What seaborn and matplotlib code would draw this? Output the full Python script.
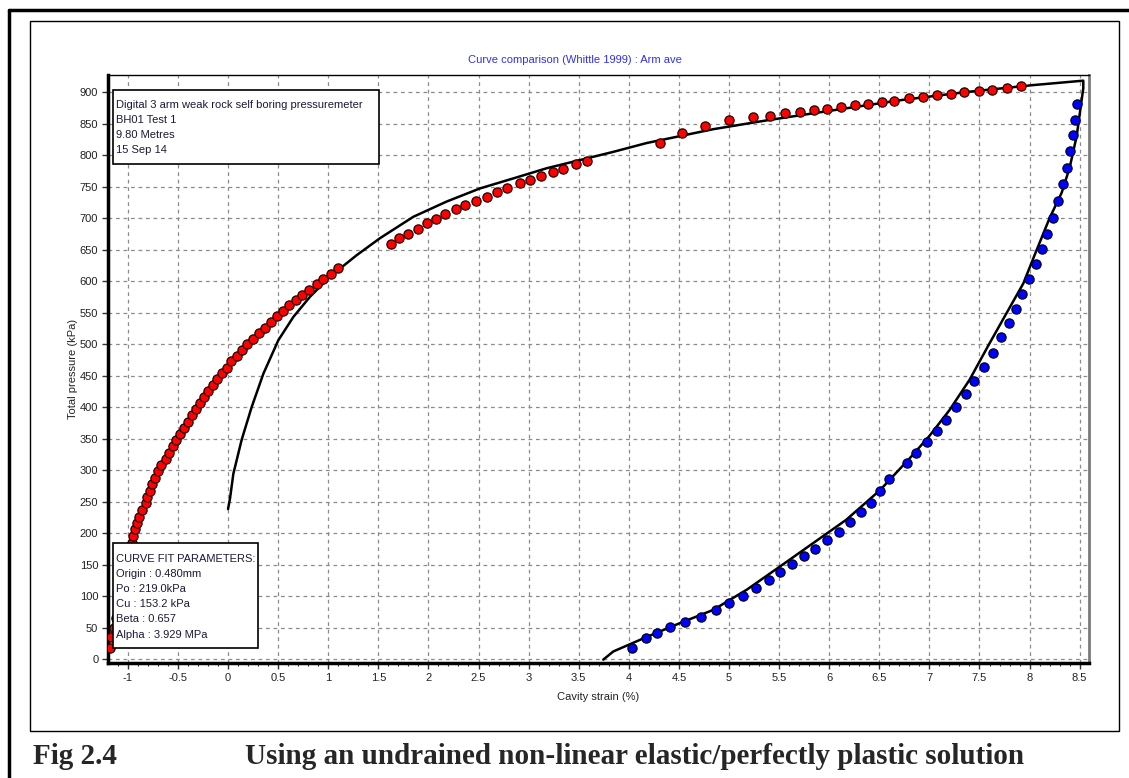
import numpy as np
import pandas as pd
import matplotlib
matplotlib.use("Agg")
import matplotlib.pyplot as plt
from matplotlib.patches import Rectangle
from matplotlib.lines import Line2D
from matplotlib.ticker import MultipleLocator
import seaborn as sns

# Loading branch (measured, red)
load_strain = [-1.18, -1.17, -1.14, -1.12, -1.10, -1.08, -1.06, -1.04, -1.02, -1.00, -0.98,
               -0.961, -0.945, -0.928, -0.911, -0.885, -0.855, -0.820,
               -0.812, -0.778, -0.755, -0.725, -0.699, -0.669, -0.622, -0.585, -0.552, -0.516,
               -0.479, -0.439, -0.399, -0.356, -0.319, -0.279, -0.236, -0.196, -0.153, -0.110,
               -0.063, -0.013, 0.033, 0.087, 0.140, 0.193, 0.250, 0.310, 0.366, 0.426,
               0.486, 0.546, 0.612, 0.679, 0.742, 0.812, 0.885, 0.951, 1.025, 1.101,
               1.624, 1.710, 1.796, 1.893, 1.983, 2.076, 2.163, 2.272, 2.368, 2.475,
               2.582, 2.685, 2.788, 2.914, 3.017, 3.127, 3.240, 3.346, 3.473, 3.586,
               4.311, 4.534, 4.757, 4.995, 5.235, 5.406, 5.559, 5.709, 5.848, 5.975,
               6.118, 6.254, 6.384, 6.524, 6.650, 6.797, 6.933, 7.073, 7.213, 7.349,
               7.492, 7.628, 7.778, 7.914]
load_pressure = [18, 35, 50, 65, 80, 95, 110, 125, 140, 155, 170,
                 184.6, 195, 205.9, 216.4, 225.9, 236.5, 248,
                 257.6, 267, 277.8, 287.8, 298, 308, 317.5, 327.5, 337.6, 347.6,
                 357, 366.7, 377, 386.7, 396.8, 406.3, 415.8, 425.4, 435, 443.9,
                 453.9, 462.4, 472.5, 481.5, 490, 500, 508.5, 517, 525.4, 535.4,
                 544.5, 553, 562, 570.4, 577.3, 585.7, 594.7, 603, 611, 620.1,
                 658.7, 667.7, 675, 683, 691.5, 698, 706.8, 713.8, 720, 727.5,
                 733.8, 741.3, 747.6, 755, 761, 766.7, 773.5, 778.3, 785.2, 790.5,
                 818.5, 834.4, 846, 855.5, 861, 862.5, 866, 868, 871.4, 873,
                 876.7, 880, 881.7, 884.9, 886, 889.7, 892.6, 894.7, 896.3, 899.4,
                 901.4, 902.5, 906.7, 909.5]

# Unloading branch (measured, blue)
unload_strain = [8.473, 8.456, 8.436, 8.403, 8.376, 8.330, 8.286, 8.230, 8.177, 8.124,
                 8.064, 7.994, 7.927, 7.864, 7.791, 7.715, 7.632, 7.545, 7.445, 7.362,
                 7.265, 7.169, 7.073, 6.973, 6.866, 6.773, 6.593, 6.510, 6.414, 6.320,
                 6.204, 6.095, 5.975, 5.858, 5.749, 5.632, 5.512, 5.396, 5.269, 5.137,
                 5.003, 4.867, 4.721, 4.564, 4.414, 4.278, 4.168, 4.032]
unload_pressure = [881.4, 855.5, 831, 806.8, 780, 754.4, 727, 700.5, 674.6, 650.3,
                   626.5, 602.6, 579.8, 556, 533.8, 510.6, 486.2, 464, 441.8, 421.2,
                   400.5, 379.9, 361.4, 343.9, 326.9, 310.6, 285.2, 266, 248.1, 232.8,
                   217.5, 201.6, 188.4, 174.6, 163, 150.8, 138, 125.4, 113.2, 99.5,
                   88.9, 77.2, 66.7, 58.7, 50.3, 41.8, 33.3, 17.9]

# Fitted curve (Whittle 1999), loading then unloading
fit_strain = [0.0, 0.02, 0.053, 0.136, 0.236, 0.353, 0.502, 0.652, 0.818, 1.018,
              1.284, 1.517, 1.85, 2.18, 2.515, 2.85, 3.18, 3.513, 3.845, 4.178,
              4.511, 4.843, 5.376, 6.04, 6.71, 7.37, 8.037, 8.536, 8.536, 8.515,
              8.47, 8.40, 8.32, 8.20, 8.07, 7.937, 7.77, 7.60, 7.40, 7.20,
              7.0, 6.8, 6.507, 6.17, 5.84, 5.51, 5.177, 4.843, 4.51, 4.178,
              3.845, 3.745]
fit_pressure = [238, 255, 294, 348, 400, 453, 506, 543, 575, 607,
                641, 668, 702, 726, 747, 763, 779, 792, 805, 819,
                830, 841, 855, 871, 887, 900, 911, 918, 906, 882,
                830, 780, 740, 700, 649, 596, 549, 501, 443, 395,
                354, 318, 268, 221, 184, 147, 110, 78, 57, 35,
                12, -1]

x_ticks = [-1, -0.5, 0, 0.5, 1, 1.5, 2, 2.5, 3, 3.5, 4, 4.5, 5, 5.5, 6, 6.5, 7, 7.5, 8, 8.5]
x_tick_labels = ["-1", "-0.5", "0", "0.5", "1", "1.5", "2", "2.5", "3", "3.5", "4", "4.5",
                 "5", "5.5", "6", "6.5", "7", "7.5", "8", "8.5"]
y_ticks = list(range(0, 901, 50))

info_lines = ["Digital 3 arm weak rock self boring pressuremeter", "BH01 Test 1",
              "9.80 Metres", "15 Sep 14"]
param_lines = ["CURVE FIT PARAMETERS:", "Origin : 0.480mm", "Po : 219.0kPa",
               "Cu : 153.2 kPa", "Beta : 0.657", "Alpha : 3.929 MPa"]

sns.set_theme(style="white")
plt.rcParams["font.family"] = ["Liberation Sans", "DejaVu Sans"]

W, H = 1129, 778
fig = plt.figure(figsize=(W / 100, H / 100), dpi=100)
fig.patch.set_facecolor("white")


def fx(px):
    return px / W


def fy(py):
    return 1 - py / H


ax = fig.add_axes([fx(108), fy(663), fx(1089) - fx(108), fy(75) - fy(663)])
ax.set_facecolor("white")

fit_df = pd.DataFrame({"strain": fit_strain, "pressure": fit_pressure})
load_df = pd.DataFrame({"strain": load_strain, "pressure": load_pressure})
unload_df = pd.DataFrame({"strain": unload_strain, "pressure": unload_pressure})

sns.lineplot(data=fit_df, x="strain", y="pressure", sort=False, estimator=None,
             color="black", lw=1.8, ax=ax, zorder=3)
sns.scatterplot(data=load_df, x="strain", y="pressure", color="#ff0000",
                edgecolor="#200000", linewidth=0.9, s=44, marker="o", ax=ax, zorder=4)
sns.scatterplot(data=unload_df, x="strain", y="pressure", color="#0000ff",
                edgecolor="#000020", linewidth=0.9, s=44, marker="o", ax=ax, zorder=4)

ax.set_xlim(-1.198, 8.593)
ax.set_ylim(-6.3, 927)
ax.set_xticks(x_ticks)
ax.set_xticklabels(x_tick_labels)
ax.set_yticks(y_ticks)
ax.xaxis.set_minor_locator(MultipleLocator(0.1))
ax.tick_params(axis="both", which="major", direction="out", length=4, width=1,
               color="#333333", labelsize=8, labelcolor="#222222", pad=3,
               bottom=True, left=True)
ax.tick_params(axis="x", which="minor", direction="out", length=2, width=0.8,
               color="#333333", bottom=True)
ax.grid(True, which="major", color="#8c8c8c", linestyle=(0, (3, 3)), linewidth=0.9)
ax.set_axisbelow(True)

ax.set_xlabel("Cavity strain (%)", fontsize=8, color="#222222", labelpad=7)
ax.set_ylabel("Total pressure (kPa)", fontsize=8, color="#222222", labelpad=1)

for side in ("left", "bottom"):
    ax.spines[side].set_color("black")
    ax.spines[side].set_linewidth(2.5)
ax.spines["top"].set_color("black")
ax.spines["top"].set_linewidth(1.0)
ax.spines["right"].set_color("#7a7a7a")
ax.spines["right"].set_linewidth(2.0)

# Chart title
fig.text(fx(575), fy(60), "Curve comparison (Whittle 1999) : Arm ave", color="#3030f0",
         fontsize=8, ha="center", va="center")

# Header box
fig.patches.append(Rectangle((fx(113), fy(164)), fx(379) - fx(113), fy(90) - fy(164),
                             transform=fig.transFigure, facecolor="white",
                             edgecolor="black", linewidth=1.2, zorder=5))
for i, line in enumerate(info_lines):
    fig.text(fx(116), fy(105 + 15 * i), line, fontsize=8, color="#1a1a3a",
             ha="left", va="center", zorder=6)

# Curve fit parameter box
fig.patches.append(Rectangle((fx(113), fy(648)), fx(258) - fx(113), fy(543) - fy(648),
                             transform=fig.transFigure, facecolor="white",
                             edgecolor="black", linewidth=1.2, zorder=5))
for i, line in enumerate(param_lines):
    fig.text(fx(116), fy(559 + 15.1 * i), line, fontsize=8, color="#1a1a3a",
             ha="left", va="center", zorder=6)

# Panel frame and page border
fig.patches.append(Rectangle((fx(30), fy(731)), fx(1119) - fx(30), fy(21) - fy(731),
                             transform=fig.transFigure, fill=False,
                             edgecolor="black", linewidth=1.0, zorder=5))
fig.lines.append(Line2D([fx(9), fx(9)], [fy(10), 0], transform=fig.transFigure,
                        color="black", linewidth=2.5))
fig.lines.append(Line2D([fx(9), 1], [fy(10), fy(10)], transform=fig.transFigure,
                        color="black", linewidth=2.5))

# Figure caption
caption_font = ["Liberation Serif", "DejaVu Serif"]
fig.text(fx(33), fy(756), "Fig 2.4", fontsize=21, fontweight="bold",
         family=caption_font, ha="left", va="center")
fig.text(fx(245), fy(756), "Using an undrained non-linear elastic/perfectly plastic solution",
         fontsize=21, fontweight="bold", family=caption_font, ha="left", va="center")

fig.savefig("out.png", dpi=100)
